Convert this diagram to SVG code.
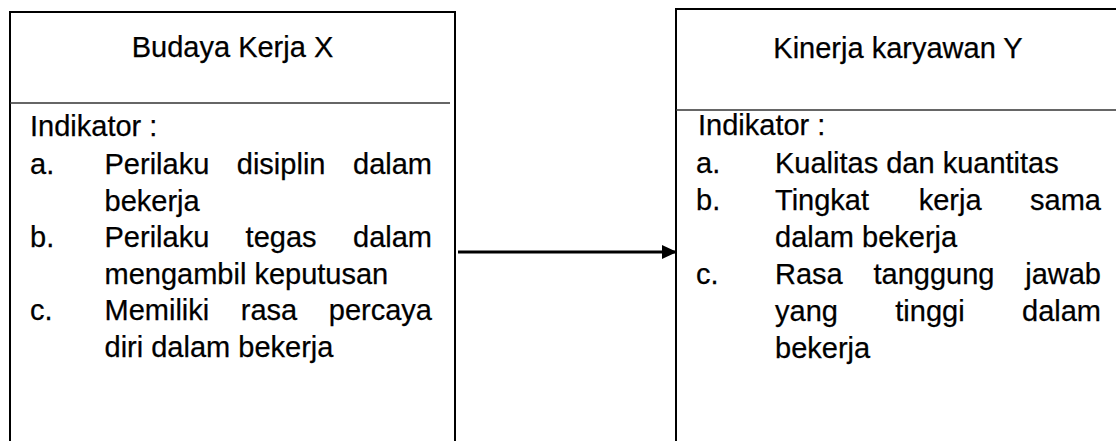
<svg xmlns="http://www.w3.org/2000/svg" width="1116" height="441" viewBox="0 0 1116 441">
  <defs>
    <style>
      .box { fill: #ffffff; stroke: #000000; stroke-width: 2; }
      .divider { stroke: #333333; stroke-width: 1.4; }
      .t { font-family: "Liberation Sans", Arial, sans-serif; font-size: 29px; fill: #000000; stroke: #000000; stroke-width: 0.25; }
      .mid { text-anchor: middle; }
      .end { text-anchor: end; }
      .edge { stroke: #000000; stroke-width: 3; fill: none; }
    </style>
    <marker id="arrowhead" markerWidth="16" markerHeight="16" refX="15" refY="8" orient="auto" markerUnits="userSpaceOnUse">
      <path d="M0,1 L15,8 L0,15 Z" fill="#000000"/>
    </marker>
  </defs>
  <rect width="1116" height="441" fill="#ffffff"/>

  <!-- Variable X -->
  <g id="node-budaya-kerja">
    <rect class="box" x="10" y="12" width="445" height="440"/>
    <line class="divider" x1="10" y1="103" x2="450" y2="103"/>
    <text class="t mid" x="232.5" y="57">Budaya Kerja X</text>
    <text class="t" x="30" y="136">Indikator :</text>
    <text class="t" x="30" y="174">a.</text>
    <text class="t" x="104.5" y="174">Perilaku</text>
    <text class="t" x="236.8" y="174">disiplin</text>
    <text class="t end" x="432" y="174">dalam</text>
    <text class="t" x="104.5" y="210.6">bekerja</text>
    <text class="t" x="30" y="247.2">b.</text>
    <text class="t" x="104.5" y="247.2">Perilaku</text>
    <text class="t" x="245.6" y="247.2">tegas</text>
    <text class="t end" x="432" y="247.2">dalam</text>
    <text class="t" x="104.5" y="283.8">mengambil keputusan</text>
    <text class="t" x="30" y="320.4">c.</text>
    <text class="t" x="104.5" y="320.4">Memiliki</text>
    <text class="t" x="240.8" y="320.4">rasa</text>
    <text class="t end" x="432" y="320.4">percaya</text>
    <text class="t" x="104.5" y="357">diri dalam bekerja</text>
  </g>

  <!-- Variable Y -->
  <g id="node-kinerja-karyawan">
    <rect class="box" x="676" y="9" width="460" height="443"/>
    <line class="divider" x1="676" y1="110" x2="1116" y2="110"/>
    <text class="t mid" x="898" y="58">Kinerja karyawan Y</text>
    <text class="t" x="698" y="135">Indikator :</text>
    <text class="t" x="696" y="173">a.</text>
    <text class="t" x="775" y="173">Kualitas dan kuantitas</text>
    <text class="t" x="696" y="210">b.</text>
    <text class="t" x="775" y="210">Tingkat</text>
    <text class="t" x="918.7" y="210">kerja</text>
    <text class="t end" x="1101" y="210">sama</text>
    <text class="t" x="775" y="247">dalam bekerja</text>
    <text class="t" x="696" y="284">c.</text>
    <text class="t" x="775" y="284">Rasa</text>
    <text class="t" x="873.5" y="284">tanggung</text>
    <text class="t end" x="1101" y="284">jawab</text>
    <text class="t" x="775" y="321">yang</text>
    <text class="t" x="895.3" y="321">tinggi</text>
    <text class="t end" x="1101" y="321">dalam</text>
    <text class="t" x="775" y="358">bekerja</text>
  </g>

  <!-- Connectors -->
  <g id="connectors">
    <line class="edge" x1="458" y1="252" x2="677" y2="252" marker-end="url(#arrowhead)"/>
  </g>
</svg>
